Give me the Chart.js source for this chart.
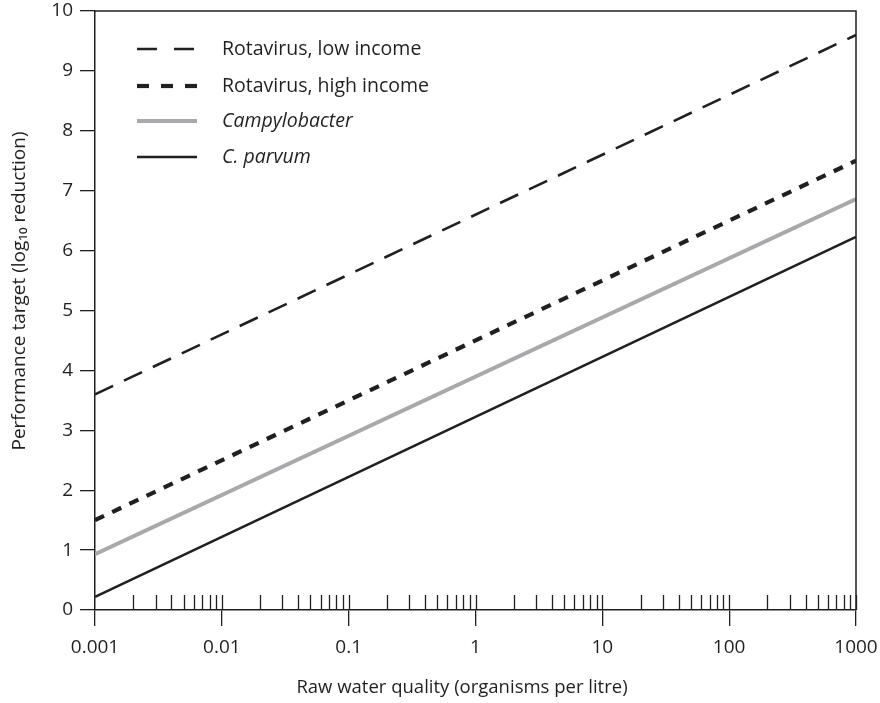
<!DOCTYPE html>
<html>
<head>
<meta charset="utf-8">
<script src="https://cdn.jsdelivr.net/npm/chart.js@4/dist/chart.umd.min.js"></script>
<style>
html,body{margin:0;padding:0;background:#fff;}
#wrap{width:880px;height:703px;position:relative;}
</style>
</head>
<body>
<div id="wrap"><canvas id="c" width="880" height="703"></canvas></div>
<script>
const xValues = [0.001, 1000];
const seriesNames = ['Rotavirus, low income', 'Rotavirus, high income', 'Campylobacter', 'C. parvum'];
const rotaLow = [3.6, 9.6];
const rotaHigh = [1.5, 7.5];
const campylobacter = [0.93, 6.86];
const cParvum = [0.22, 6.23];
const xTickLabels = ['0.001', '0.01', '0.1', '1', '10', '100', '1000'];
const yTickLabels = ['0','1','2','3','4','5','6','7','8','9','10'];
const xTitle = 'Raw water quality (organisms per litre)';
const yTitle = 'Performance target (log\u2081\u2080 reduction)';

const INK = '#231f20';
const FONT = "'Open Sans', 'Noto Sans', sans-serif";

function pts(vals){ return xValues.map((x,i)=>({x:x, y:vals[i]})); }

const datasets = [
  {label: seriesNames[0], data: pts(rotaLow), borderColor: INK, borderWidth: 2.6, borderDash: [20,12], italic:false, legendDash:[20,17]},
  {label: seriesNames[1], data: pts(rotaHigh), borderColor: INK, borderWidth: 4.2, borderDash: [10,9], italic:false, legendDash:[12,12]},
  {label: seriesNames[2], data: pts(campylobacter), borderColor: '#a7a9ac', borderWidth: 4, borderDash: [], italic:true, legendDash:[]},
  {label: seriesNames[3], data: pts(cParvum), borderColor: INK, borderWidth: 2.6, borderDash: [], italic:true, legendDash:[]}
].map(d => Object.assign(d, {pointRadius:0, fill:false, tension:0, borderCapStyle:'butt'}));

const decorPlugin = {
  id: 'decor',
  afterDatasetsDraw(chart){
    const ctx = chart.ctx;
    const a = chart.chartArea;
    const xs = chart.scales.x;
    ctx.save();
    ctx.strokeStyle = INK;
    ctx.lineWidth = 1.5;
    ctx.beginPath();
    ctx.moveTo(a.left, a.top); ctx.lineTo(a.right, a.top); ctx.lineTo(a.right, a.bottom);
    ctx.stroke();
    ctx.lineWidth = 1.3;
    ctx.beginPath();
    for (let e = -3; e < 3; e++) {
      for (let m = 1; m <= 10; m++) {
        if (m === 1 && e === -3) continue;
        const v = m * Math.pow(10, e);
        const px = Math.round(xs.getPixelForValue(v)) + 0.5;
        ctx.moveTo(px, a.bottom);
        ctx.lineTo(px, a.bottom - 15);
      }
    }
    ctx.stroke();
    // legend
    const lx0 = a.left + 42, lx1 = a.left + 102, tx = a.left + 127;
    const rows = [49, 86, 121, 157];
    chart.data.datasets.forEach((d, i) => {
      const y = rows[i];
      ctx.strokeStyle = d.borderColor;
      ctx.lineWidth = d.borderWidth;
      ctx.lineCap = 'butt';
      ctx.setLineDash(d.legendDash);
      ctx.beginPath();
      ctx.moveTo(lx0, y); ctx.lineTo(lx1, y);
      ctx.stroke();
      ctx.setLineDash([]);
      ctx.fillStyle = INK;
      ctx.font = (d.italic ? 'italic ' : '') + '19.5px ' + FONT;
      ctx.textBaseline = 'middle';
      ctx.textAlign = 'left';
      ctx.fillText(d.label, tx, y);
    });
    // x title
    ctx.fillStyle = INK;
    ctx.font = '18.5px ' + FONT;
    ctx.textAlign = 'center';
    ctx.textBaseline = 'middle';
    ctx.fillText(xTitle, 462, 688);
    // y title
    ctx.translate(20, 291);
    ctx.rotate(-Math.PI / 2);
    ctx.font = '19px ' + FONT;
    ctx.fillText(yTitle, 0, 0);
    ctx.restore();
  }
};

new Chart(document.getElementById('c'), {
  type: 'line',
  data: { datasets: datasets },
  options: {
    responsive: false,
    animation: false,
    layout: { padding: { left: 0, right: 24, top: 11, bottom: 0 } },
    plugins: { legend: { display: false }, tooltip: { enabled: false } },
    scales: {
      x: {
        type: 'logarithmic',
        min: 0.001, max: 1000,
        afterBuildTicks(scale){
          scale.ticks = xTickLabels.map(s => ({value: parseFloat(s), label: s}));
        },
        afterFit(scale){ scale.height = 93; scale.paddingLeft = 0; scale.paddingRight = 0; },
        ticks: {
          autoSkip: false, maxRotation: 0, color: INK, padding: 10,
          font: { family: FONT, size: 19 },
          callback(v, i){ return xTickLabels[i]; }
        },
        grid: { drawOnChartArea: false, drawTicks: true, tickLength: 16, color: INK, lineWidth: 1.3 },
        border: { display: true, color: INK, width: 1.5 },
        title: { display: false }
      },
      y: {
        min: 0, max: 10,
        afterBuildTicks(scale){
          scale.ticks = yTickLabels.map(s => ({value: parseFloat(s), label: s}));
        },
        afterFit(scale){ scale.width = 95; scale.paddingTop = 0; scale.paddingBottom = 0; },
        ticks: { stepSize: 1, color: INK, padding: 7, font: { family: FONT, size: 19 },
                 callback(v, i){ return yTickLabels[i]; } },
        grid: { drawOnChartArea: false, drawTicks: true, tickLength: 15, color: INK, lineWidth: 1.3 },
        border: { display: true, color: INK, width: 1.5 },
        title: { display: false }
      }
    }
  },
  plugins: [decorPlugin]
});
</script>
</body>
</html>
